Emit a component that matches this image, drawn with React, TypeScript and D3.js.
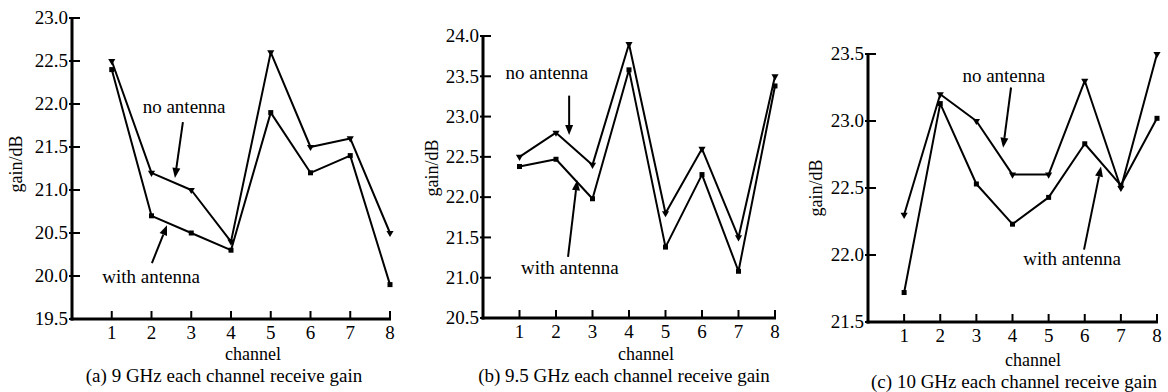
import React from 'react';
import * as d3 from 'd3';

const channels = [1, 2, 3, 4, 5, 6, 7, 8];

const aNoAntenna = [22.5, 21.2, 21.0, 20.4, 22.6, 21.5, 21.6, 20.5];
const aWithAntenna = [22.4, 20.7, 20.5, 20.3, 21.9, 21.2, 21.4, 19.9];
const aYTicks = [19.5, 20.0, 20.5, 21.0, 21.5, 22.0, 22.5, 23.0];

const bNoAntenna = [22.5, 22.8, 22.4, 23.9, 21.8, 22.6, 21.5, 23.5];
const bWithAntenna = [22.38, 22.47, 21.98, 23.58, 21.38, 22.28, 21.08, 23.38];
const bYTicks = [20.5, 21.0, 21.5, 22.0, 22.5, 23.0, 23.5, 24.0];

const cNoAntenna = [22.3, 23.2, 23.0, 22.6, 22.6, 23.3, 22.5, 23.5];
const cWithAntenna = [21.72, 23.13, 22.53, 22.23, 22.43, 22.83, 22.52, 23.02];
const cYTicks = [21.5, 22.0, 22.5, 23.0, 23.5];

const captions = [
  '(a) 9 GHz each channel receive gain',
  '(b) 9.5 GHz each channel receive gain',
  '(c) 10 GHz each channel receive gain',
];
const xTitle = 'channel';
const yTitle = 'gain/dB';
const labelNo = 'no antenna';
const labelWith = 'with antenna';

const FONT = "'Liberation Serif', 'Times New Roman', Times, serif";

type Pt = [number, number];
interface PanelCfg {
  noAnt: number[];
  withAnt: number[];
  yTicks: number[];
  caption: string;
  xRange: [number, number];
  yRange: [number, number];
  noText: Pt; noArrow: [Pt, Pt];
  withText: Pt; withArrow: [Pt, Pt];
  yTitlePos: [number, number];
  tickBase: number; xTitlePos: [number, number]; captionPos: [number, number];
}

const panels: PanelCfg[] = [
  {
    noAnt: aNoAntenna, withAnt: aWithAntenna, yTicks: aYTicks, caption: captions[0],
    xRange: [72, 390], yRange: [319, 18],
    noText: [2.82, 21.97], noArrow: [[2.79, 21.79], [2.59, 21.14]],
    withText: [1.99, 19.99], withArrow: [[2.01, 20.15], [2.39, 20.59]],
    yTitlePos: [16, 164], tickBase: 339, xTitlePos: [253, 360], captionPos: [224, 382],
  },
  {
    noAnt: bNoAntenna, withAnt: bWithAntenna, yTicks: bYTicks, caption: captions[1],
    xRange: [483, 775], yRange: [318, 36],
    noText: [1.75, 23.55], noArrow: [[2.36, 23.26], [2.36, 22.77]],
    withText: [2.38, 21.12], withArrow: [[2.33, 21.26], [2.58, 22.21]],
    yTitlePos: [432, 168], tickBase: 338, xTitlePos: [646, 360], captionPos: [624, 382],
  },
  {
    noAnt: cNoAntenna, withAnt: cWithAntenna, yTicks: cYTicks, caption: captions[2],
    xRange: [868, 1157], yRange: [322, 54],
    noText: [3.76, 23.34], noArrow: [[3.96, 23.25], [3.74, 22.8]],
    withText: [5.65, 21.97], withArrow: [[5.98, 22.04], [6.45, 22.66]],
    yTitlePos: [816, 188], tickBase: 342, xTitlePos: [1033, 366], captionPos: [1014, 388],
  },
];

function T(props: any) {
  const { size, children, ...rest } = props;
  return (
    <text {...rest} style={{ fontFamily: FONT, fontSize: size + 'px' }} fill="#000">
      {children}
    </text>
  );
}

function Arrow({ from, to }: { from: Pt; to: Pt }) {
  const [x1, y1] = from;
  const [x2, y2] = to;
  const ang = Math.atan2(y2 - y1, x2 - x1);
  const L = 10, W = 4;
  const bx = x2 - L * Math.cos(ang), by = y2 - L * Math.sin(ang);
  const px = -Math.sin(ang) * W, py = Math.cos(ang) * W;
  return (
    <g>
      <line x1={x1} y1={y1} x2={bx} y2={by} stroke="#000" strokeWidth={2} />
      <path d={`M${x2},${y2}L${bx + px},${by + py}L${bx - px},${by - py}Z`} fill="#000" />
    </g>
  );
}

function Panel({ cfg }: { cfg: PanelCfg }) {
  const yDom = d3.extent(cfg.yTicks) as [number, number];
  const x = d3.scaleLinear().domain([0, 8]).range(cfg.xRange);
  const y = d3.scaleLinear().domain(yDom).range(cfg.yRange);
  const line = d3.line<number>().x((_, i) => x(channels[i])).y((d) => y(d));
  const [x0, x1] = cfg.xRange;
  const [yb, yt] = cfg.yRange;
  const tri = d3.symbol().type(d3.symbolTriangle).size(22)();
  const P = (p: Pt): Pt => [x(p[0]), y(p[1])];
  const nt = P(cfg.noText);
  const wt = P(cfg.withText);
  return (
    <g>
      <path d={line(cfg.noAnt) || ''} fill="none" stroke="#000" strokeWidth={2} strokeLinejoin="round" />
      <path d={line(cfg.withAnt) || ''} fill="none" stroke="#000" strokeWidth={2} strokeLinejoin="round" />
      {cfg.noAnt.map((v, i) => (
        <path key={'n' + i} d={tri || ''} transform={`translate(${x(channels[i])},${y(v)}) rotate(180)`} fill="#000" />
      ))}
      {cfg.withAnt.map((v, i) => (
        <rect key={'w' + i} x={x(channels[i]) - 2.5} y={y(v) - 2.5} width={5} height={5} fill="#000" />
      ))}
      <line x1={x0} y1={yt} x2={x0} y2={yb + 1.5} stroke="#000" strokeWidth={3} />
      <line x1={x0 - 1.5} y1={yb} x2={x1 + 1} y2={yb} stroke="#000" strokeWidth={3} />
      {cfg.yTicks.map((t) => (
        <g key={'yt' + t}>
          <line x1={x0 - 3} x2={x0 + 8} y1={y(t)} y2={y(t)} stroke="#000" strokeWidth={2} />
          <T x={x0 - 4} y={y(t)} dy="0.33em" textAnchor="end" size={19}>{t.toFixed(1)}</T>
        </g>
      ))}
      {channels.map((c) => (
        <g key={'xt' + c}>
          <line x1={x(c)} x2={x(c)} y1={yb} y2={yb - 8} stroke="#000" strokeWidth={2} />
          <T x={x(c)} y={cfg.tickBase} textAnchor="middle" size={19}>{c}</T>
        </g>
      ))}
      <T x={cfg.xTitlePos[0]} y={cfg.xTitlePos[1]} textAnchor="middle" size={18}>{xTitle}</T>
      <T x={cfg.captionPos[0]} y={cfg.captionPos[1]} textAnchor="middle" size={19}>{cfg.caption}</T>
      <T transform={`translate(${cfg.yTitlePos[0]},${cfg.yTitlePos[1]}) rotate(-90)`} dy="0.33em" textAnchor="middle" size={18}>{yTitle}</T>
      <T x={nt[0]} y={nt[1]} dy="0.33em" textAnchor="middle" size={19}>{labelNo}</T>
      <Arrow from={P(cfg.noArrow[0])} to={P(cfg.noArrow[1])} />
      <T x={wt[0]} y={wt[1]} dy="0.33em" textAnchor="middle" size={19}>{labelWith}</T>
      <Arrow from={P(cfg.withArrow[0])} to={P(cfg.withArrow[1])} />
    </g>
  );
}

export default function App() {
  return (
    <svg width={1168} height={392} style={{ position: 'absolute', left: 0, top: 0, background: '#fff' }}>
      <rect width={1168} height={392} fill="#fff" />
      {panels.map((p, i) => (
        <Panel key={i} cfg={p} />
      ))}
    </svg>
  );
}
